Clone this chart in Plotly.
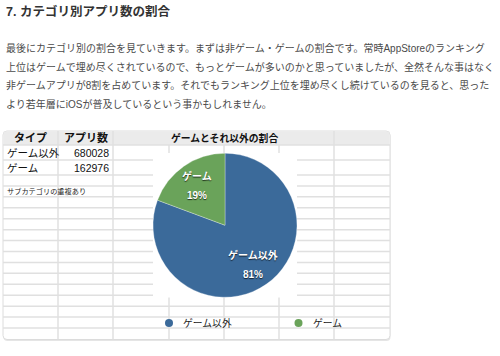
import math
import plotly.graph_objects as go

# ---------------- data ----------------
categories = ["ゲーム以外", "ゲーム"]
app_counts = [680028, 162976]
slice_colors = ["#3b6a9a", "#6aa35a"]

page_title = "7. カテゴリ別アプリ数の割合"
paragraph_lines = [
    "最後にカテゴリ別の割合を見ていきます。まずは非ゲーム・ゲームの割合です。常時AppStoreのランキング",
    "上位はゲームで埋め尽くされているので、もっとゲームが多いのかと思っていましたが、全然そんな事はなく",
    "非ゲームアプリが8割を占めています。それでもランキング上位を埋め尽くし続けているのを見ると、思った",
    "より若年層にiOSが普及しているという事かもしれません。",
]
table_headers = ["タイプ", "アプリ数"]
table_note = "サブカテゴリの重複あり"
chart_title = "ゲームとそれ以外の割合"

# ---------------- layout helpers ----------------
W, H = 500, 356
def X(px): return px / W
def Y(py): return 1 - py / H

FONT = "Liberation Sans, Noto Sans CJK JP, sans-serif"
GRID = "#e0e0e0"

shapes = []
annotations = []

def line(x0, y0, x1, y1, color=GRID, width=1.5):
    shapes.append(dict(type="line", xref="paper", yref="paper",
                       x0=X(x0), y0=Y(y0), x1=X(x1), y1=Y(y1),
                       line=dict(color=color, width=width), layer="below"))

def rect(x0, y0, x1, y1, fill, lw=0, lc="rgba(0,0,0,0)"):
    shapes.append(dict(type="rect", xref="paper", yref="paper",
                       x0=X(x0), y0=Y(y0), x1=X(x1), y1=Y(y1),
                       fillcolor=fill, line=dict(color=lc, width=lw), layer="below"))

def rounded(x0, y0, x1, y1, r, fill, lc, lw):
    p = (f"M {X(x0+r)},{Y(y0)} L {X(x1-r)},{Y(y0)} Q {X(x1)},{Y(y0)} {X(x1)},{Y(y0+r)} "
         f"L {X(x1)},{Y(y1-r)} Q {X(x1)},{Y(y1)} {X(x1-r)},{Y(y1)} "
         f"L {X(x0+r)},{Y(y1)} Q {X(x0)},{Y(y1)} {X(x0)},{Y(y1-r)} "
         f"L {X(x0)},{Y(y0+r)} Q {X(x0)},{Y(y0)} {X(x0+r)},{Y(y0)} Z")
    shapes.append(dict(type="path", xref="paper", yref="paper", path=p,
                       fillcolor=fill, line=dict(color=lc, width=lw), layer="below"))

def text(x, y, s, size, color="#111", xanchor="left", bold=False, shadow=None):
    f = dict(family=FONT, size=size, color=color)
    if shadow:
        f["shadow"] = shadow
    annotations.append(dict(x=X(x), y=Y(y), xref="paper", yref="paper",
                            text=f"<b>{s}</b>" if bold else s, showarrow=False,
                            xanchor=xanchor, yanchor="middle", font=f))

# ---------------- page text ----------------
text(4, 12, page_title, 12.5, color="#333", bold=True)
for i, ln in enumerate(paragraph_lines):
    text(4, 48 + i * 18.6, ln, 10, color="#4a4a4a")

# ---------------- spreadsheet background ----------------
TX0, TX1, TY0, TY1 = 3, 390, 131, 339.5
rounded(TX0 + 0.5, TY0 + 1.5, TX1 + 0.5, TY1 + 1.5, 4, "rgba(0,0,0,0.10)", "rgba(0,0,0,0)", 0)
rounded(TX0, TY0, TX1, TY1, 4, "white", "#dcdcdc", 1)
rect(TX0 + 0.5, TY0 + 0.5, TX1 - 0.5, 145, "#ebebeb")

col_x = [58, 113, 169, 224, 279, 334]
row_y = [145, 160, 175] + [175 + k * 10.93 for k in range(1, 15)]
for yy in row_y:
    line(TX0, yy, TX1, yy)
for cx in col_x:
    top = TY0 if cx in (58, 113, 334) else 145
    line(cx, top, cx, TY1)

# white backdrop behind pie
PX0, PX1, PY0, PY1 = 153, 297, 153, 297.5
rect(PX0, PY0, PX1, PY1, "white")

# table text
text(30.5, 138, table_headers[0], 11, bold=True, xanchor="center")
text(85.5, 138, table_headers[1], 11, bold=True, xanchor="center")
for i, (c, v) in enumerate(zip(categories, app_counts)):
    yy = 152.5 + i * 15
    text(5, yy, c, 10.5)
    text(111, yy, f"{v}", 10.5, xanchor="right")
text(5, 191, table_note, 7.2, color="#222")

text(224.5, 138, chart_title, 9.8, bold=True, xanchor="center")

# ---------------- pie ----------------
fig = go.Figure(go.Pie(
    labels=categories, values=app_counts, sort=False, direction="clockwise",
    rotation=0, textinfo="none", hoverinfo="label+percent",
    marker=dict(colors=slice_colors, line=dict(color="rgba(255,255,255,0.5)", width=0.6)),
    domain=dict(x=[X(PX0), X(PX1)], y=[Y(PY1), Y(PY0)]),
    showlegend=False,
))

# slice labels placed at the mid-angle of each slice
cx, cy = (PX0 + PX1) / 2, (PY0 + PY1) / 2
r = min(PX1 - PX0, PY1 - PY0) / 2
total = sum(app_counts)
cum = 0
shadow = "0px 1px 1px rgba(0,0,0,0.7)"
for c, v in zip(categories, app_counts):
    theta = 2 * math.pi * (cum + v / 2) / total
    cum += v
    lx = cx + 0.67 * r * math.sin(theta)
    ly = cy - 0.67 * r * math.cos(theta)
    text(lx, ly - 9.5, c, 10, color="white", xanchor="center", bold=True, shadow=shadow)
    text(lx, ly + 9.5, f"{round(100 * v / total)}%", 10, color="white",
         xanchor="center", bold=True, shadow=shadow)

# ---------------- legend ----------------
leg_x = [169, 298.5]
for lx, c, col in zip(leg_x, categories, slice_colors):
    shapes.append(dict(type="circle", xref="paper", yref="paper",
                       x0=X(lx - 4), x1=X(lx + 4), y0=Y(323 + 4), y1=Y(323 - 4),
                       fillcolor=col, line=dict(width=0), layer="above"))
    text(lx + 12, 323, c, 9.8, color="#222")

fig.update_layout(
    width=W, height=H, margin=dict(l=0, r=0, t=0, b=0),
    paper_bgcolor="white", plot_bgcolor="white",
    shapes=shapes, annotations=annotations,
)
fig.write_html("out.html")
